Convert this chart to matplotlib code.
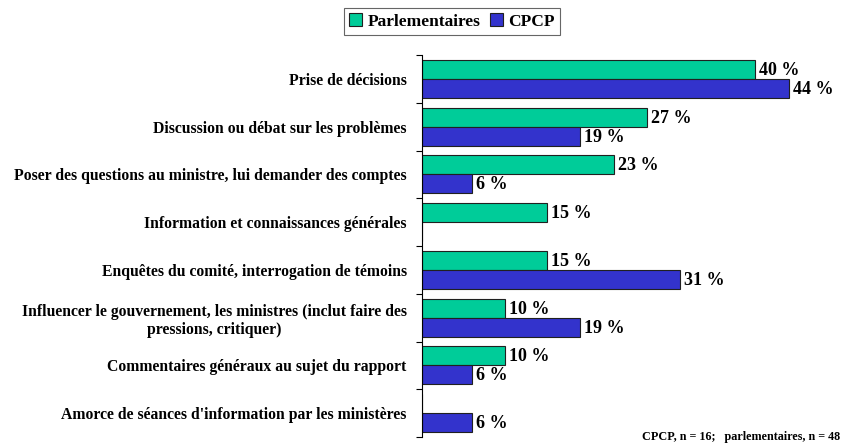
import matplotlib.pyplot as plt
import numpy as np

# data
categories = [
    "Prise de décisions",
    "Discussion ou débat sur les problèmes",
    "Poser des questions au ministre, lui demander des comptes",
    "Information et connaissances générales",
    "Enquêtes du comité, interrogation de témoins",
    "Influencer le gouvernement, les ministres (inclut faire des\npressions, critiquer)",
    "Commentaires généraux au sujet du rapport",
    "Amorce de séances d'information par les ministères",
]
parlementaires = [40, 27, 23, 15, 15, 10, 10, 0]
cpcp = [44, 19, 6, 0, 31, 19, 6, 6]

plt.rcParams['font.family'] = ['Liberation Serif', 'DejaVu Serif']
plt.rcParams['font.weight'] = 'bold'

fig = plt.figure(figsize=(8.44, 4.47), dpi=100)
ax = fig.add_axes([422 / 844, 10 / 447, 420 / 844, 382 / 447])

n = len(categories)
centers = np.arange(n) + 0.5
h = 0.4

bars1 = ax.barh(centers - h / 2, parlementaires, height=h, color='#00CC99',
                edgecolor='#202020', linewidth=0.8, label='Parlementaires')
bars2 = ax.barh(centers + h / 2, cpcp, height=h, color='#3333CC',
                edgecolor='#202020', linewidth=0.8, label='CPCP')

for bars, vals in [(bars1, parlementaires), (bars2, cpcp)]:
    for b, v in zip(bars, vals):
        if v > 0:
            ax.text(b.get_width() + 0.5, b.get_y() + b.get_height() / 2 + 0.02,
                    f"{v} %", va='center', ha='left', fontsize=13, fontweight='bold')

ax.set_ylim(n, 0)
ax.set_xlim(0, 420 / 8.33)
ax.set_yticks(np.arange(n + 1))
ax.set_yticklabels([])
ax.tick_params(axis='y', which='major', length=4, width=0.8, direction='out')
ax.set_yticks(centers, categories, minor=True)
ax.tick_params(axis='y', which='minor', length=0, pad=11, labelsize=11.3)
for t in ax.get_yticklabels(minor=True):
    t.set_multialignment('center')
    t.set_fontweight('bold')

ax.set_xticks([])
for s in ['top', 'right', 'bottom']:
    ax.spines[s].set_visible(False)
ax.spines['left'].set_linewidth(0.8)

leg = fig.legend(loc='upper center', bbox_to_anchor=(452 / 844, 0.982), ncol=2,
                 frameon=True, fancybox=False, edgecolor='#404040',
                 prop={'weight': 'bold', 'size': 12.5}, handlelength=0.75,
                 handleheight=0.75, handletextpad=0.35, columnspacing=0.5,
                 borderpad=0.3, borderaxespad=0)
leg.get_frame().set_linewidth(0.8)

fig.text(0.995, 0.008, "CPCP, n = 16;   parlementaires, n = 48", ha='right',
         va='bottom', fontsize=8.7, fontweight='bold')

fig.savefig('out.png', dpi=100)
